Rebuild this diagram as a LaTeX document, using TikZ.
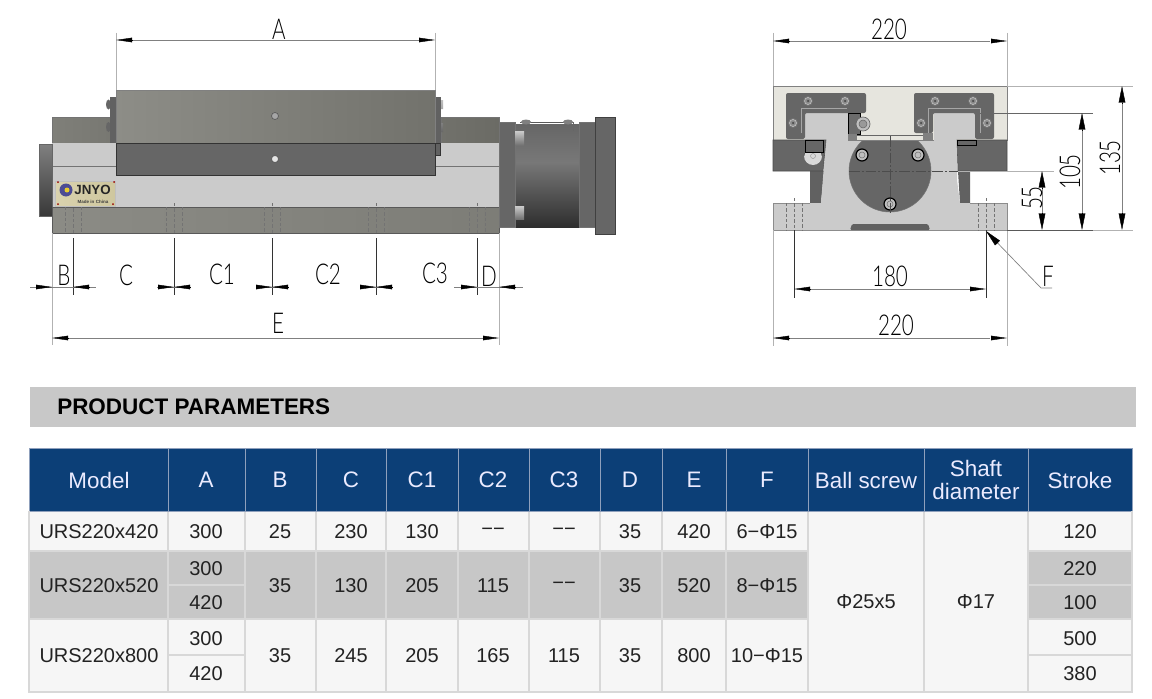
\documentclass[tikz,border=0pt]{standalone}
\usepackage{fontspec}
\usepackage{graphicx}
\setmainfont{Liberation Sans}
\newfontfamily\dimfont{Lato Light}
\usetikzlibrary{arrows.meta}
\definecolor{hdr}{HTML}{0C3F77}
\definecolor{hdrline}{HTML}{8FA0BC}
\definecolor{cellw}{HTML}{F6F6F6}
\definecolor{cellg}{HTML}{C7C7C7}
\definecolor{cellline}{HTML}{D8D8D8}
\definecolor{band}{HTML}{C8C8C8}
\definecolor{lightbody}{HTML}{CBCBCB}
\definecolor{darkgrey}{HTML}{666666}
\definecolor{cream}{HTML}{E6E5DE}
\definecolor{ink}{HTML}{222222}
\definecolor{carrL}{HTML}{8D8D87}
\definecolor{carrR}{HTML}{72726C}
\definecolor{baseL}{HTML}{8B8B85}
\definecolor{baseR}{HTML}{7D7D77}
\definecolor{upL}{HTML}{7F7F79}
\definecolor{upM}{HTML}{787872}
\definecolor{upN}{HTML}{71716B}
\definecolor{upR}{HTML}{6B6B65}
\definecolor{plateL}{HTML}{D9D2AE}
\definecolor{plateR}{HTML}{CFC79E}
\tikzset{
  x=0.75pt,y=-0.75pt,
  cell/.style={text=ink,font=\fontsize{15}{16}\selectfont,inner sep=0pt,align=center},
  headcell/.style={text=white!92!blue,font=\fontsize{16.8}{17.5}\selectfont,inner sep=0pt,align=center},
  dimlab/.style={text=black,font=\dimfont\fontsize{21.5}{23}\selectfont,inner sep=0pt},
  dimline/.style={draw=black!50,line width=0.5pt},
  extline/.style={draw=black!30,line width=0.6pt},
  tickline/.style={draw=black!80,line width=0.5pt},
  dimtip/.style={draw=black,line width=0.3pt,-{Stealth[length=12pt,width=3.4pt,inset=0pt]}},
  vdimtip/.style={draw=black,line width=0.3pt,-{Stealth[length=12.5pt,width=5pt,inset=0pt]}},
  bodyedge/.style={draw=black!55,line width=0.5pt},
  holedash/.style={draw=black!55,line width=0.4pt,dash pattern=on 2.5pt off 1.5pt},
  centre/.style={draw=black!70,line width=0.4pt,dash pattern=on 8pt off 1.5pt on 1.5pt off 1.5pt},
}
\newcommand{\nar}[1]{\scalebox{.72}[1]{#1}}
\newcommand{\bolt}[3]{%
  \fill[black!55] (#1,#2) circle[radius=#3];
  \draw[black!25,line width=.5pt,fill=black!45] (#1,#2) circle[radius=#3*.7];
  \fill[black!70] (#1,#2) circle[radius=#3*.25];}
\newcommand{\rbolt}[3]{%
  \draw[black,line width=.9pt,fill=black!25] (#1,#2) circle[radius=#3];
  \draw[black!55,line width=.4pt] (#1,#2) circle[radius=#3*.5];}
\newcommand{\tc}[3]{\node[cell] (t-#1-#2) at (#1,#2+1) {#3};}
\newcommand{\hc}[3]{\node[headcell] (h-#1-#2) at (#1,#2) {#3};}
\begin{document}
\begin{tikzpicture}
\useasboundingbox (0,0) rectangle (1152,699);
\fill[white] (0,0) rectangle (1152,699);

% ---------- side view ----------
\shade[left color=upL,right color=upM,draw=black!55,line width=.4pt] (52,117) rectangle (110,143);
\shade[left color=upN,right color=upR,draw=black!55,line width=.4pt] (441,117) rectangle (499,143);
\fill[lightbody] (52,143) rectangle (499,207);
\draw[bodyedge] (52,166) -- (116,166) (435,166) -- (499,166);
\shade[top color=black!50,bottom color=black!78,draw=black!60,line width=.3pt] (39,144) rectangle (52,216);
\shade[left color=baseL,right color=baseR,draw=black!65,line width=.4pt] (52,207) rectangle (499,233);
% side plates and bolts
\fill[black!60] (108.5,104.5) ellipse[x radius=2.5,y radius=5] (108.5,127) ellipse[x radius=2.5,y radius=5];
\fill[black!62] (110,97) rectangle (116,143);
\shade[top color=black!25,bottom color=black!60] (441,100) rectangle (443,109) (441,123) rectangle (443,132);
\fill[black!62] (435,97) rectangle (441,143);
\draw[black!80,line width=.4pt,fill=black!62] (435,143) rectangle (440,155);
% carriage
\shade[left color=carrL,right color=carrR,draw=black!50,line width=.5pt] (116,90) rectangle (435,143);
\draw[black!80,line width=.6pt,fill=darkgrey] (116,143) rectangle (435,175);
\draw[black!65,line width=.5pt,fill=black!35] (275,116) circle[radius=3.5];
\draw[black!65,line width=.5pt,fill=black!10] (275,159) circle[radius=3.5];
% hole dashes
\foreach \h in {73,174,272,376,477}{
  \draw[holedash] (\h-8,207) -- (\h-8,233) (\h+8,207) -- (\h+8,233);
  \draw[holedash] (\h,203) -- (\h,233);
}
% name plate
\shade[left color=plateL,right color=plateR,draw=black!25,line width=.3pt] (55,181) rectangle (115,206);
\fill[blue!40!black!70] (66,190) circle[radius=6.5];
\fill[yellow!60!brown] (67,190) circle[radius=2.5];
\node[inner sep=0pt,font=\bfseries\fontsize{10}{10}\selectfont,text=black!85] (plate) at (92.5,190) {JNYO};
\node[inner sep=0pt,font=\bfseries\fontsize{3.4}{4}\selectfont,text=black!75] (made) at (93,201.5) {Made in China};
\foreach \px/\py in {58/182,114/182,58/204,113/204}{\fill[red!60!black] (\px,\py) circle[radius=1];}
% motor
\shade[top color=black!60,bottom color=black!53] (515,124) rectangle (579,162);
\shade[top color=black!53,bottom color=black!82] (515,162) rectangle (579,227);
\draw[black!65,line width=.4pt] (520,122) -- (573,122);
\fill[black!50] (526,122) ellipse[x radius=5,y radius=2.5] (568,122) ellipse[x radius=5,y radius=2.5];
\draw[black!60,line width=.4pt] (573,122) -- (573,131);
\draw[black!55,line width=.4pt,fill=darkgrey] (499,122) rectangle (515,227);
\draw[black!55,line width=.4pt,fill=darkgrey] (579,122) rectangle (595,227);
\draw[black!75,line width=.5pt,fill=darkgrey] (595,117) rectangle (615,234);
\shade[top color=black!20,bottom color=black!55] (515,131) rectangle (524,145);
\shade[top color=black!20,bottom color=black!55] (515,206) rectangle (524,219);

% ---------- side view dimensions ----------
\draw[extline] (116,33) -- (116,90) (435,33) -- (435,90);
\draw[dimline] (130,40) -- (420,40);
\draw[dimtip] (132,40) -- (116,40);
\draw[dimtip] (419,40) -- (435,40);
\node[dimlab] (labA) at (279,29) {\nar{A}};
\draw[extline] (52,233) -- (52,345) (499,233) -- (499,345);
\foreach \h in {73,174,272,376,477}{\draw[tickline] (\h,238) -- (\h,295);}
\draw[dimline] (30,287) -- (96,287) (157,287) -- (190,287) (257,287) -- (288,287) (361,287) -- (392,287) (454,287) -- (523,287);
\foreach \a/\b in {36/52,89/73,158/174,190/174,256/272,288/272,360/376,392/376,461/477,515/499}{
  \draw[dimtip] (\a,287) -- (\b,287);
}
\node[dimlab] (labB) at (64,275) {\nar{B}};
\node[dimlab] (labC) at (126,275) {\nar{C}};
\node[dimlab] (labC1) at (222,274) {\nar{C1}};
\node[dimlab] (labC2) at (328,274) {\nar{C2}};
\node[dimlab] (labC3) at (435,273) {\nar{C3}};
\node[dimlab] (labD) at (489,276) {\nar{D}};
\draw[dimline] (60,338) -- (490,338);
\draw[dimtip] (68,338) -- (52,338);
\draw[dimtip] (483,338) -- (499,338);
\node[dimlab] (labE) at (278,323) {\nar{E}};

% ---------- end view ----------
\draw[black!50,line width=.5pt,fill=cream] (773,86) rectangle (1007,140);
% wedges
\fill[black!62] (810,171) -- (824,171) -- (821,203) -- (810,203) -- cycle;
\fill[black!62] (958,171) -- (970,171) -- (970,203) -- (960,203) -- cycle;
% light body
\fill[lightbody] (805,113) -- (848,113) -- (848,141) -- (934,141) -- (934,113) -- (975,113) -- (975,139) -- (957,139) -- (957,180) -- (960,203) -- (1007,203) -- (1007,230) -- (773,230) -- (773,203) -- (821,203) -- (826,140) -- (805,140) -- cycle;
\draw[black!45,line width=.4pt] (773,203) -- (810,203) (970,203) -- (1007,203) (773,230) -- (1007,230) (773,203) -- (773,230) (1007,203) -- (1007,230);
% side blocks
\draw[black!70,line width=.4pt,fill=darkgrey] (773,140) -- (826,140) -- (823,171) -- (773,171) -- cycle;
\draw[black!70,line width=.4pt,fill=darkgrey] (957,140) -- (1007,140) -- (1007,171) -- (958,171) -- cycle;
% carriages
\fill[black!60,rounded corners=1.5pt] (786,139) -- (786,93) -- (866,93) -- (866,113) -- (805,113) -- (805,139) -- cycle;
\fill[black!60,rounded corners=1.5pt] (914,133) -- (914,93) -- (994,93) -- (994,139) -- (975,139) -- (975,113) -- (933,113) -- (933,133) -- cycle;
\draw[black!35,line width=.4pt] (801,133) -- (801,108) -- (847,108);
\draw[black!35,line width=.4pt] (980,133) -- (980,108) -- (928,108) -- (928,133);
\draw[black,line width=.6pt,fill=black!58] (848,113) -- (860,113) -- (860,134) -- (848,134) -- cycle;
\fill[black!50] (848,134) rectangle (857,141);
\fill[black!50] (923,133) rectangle (933,141);
\draw[black!60,line width=.4pt] (857,135) -- (923,135);
% centre disc
\begin{scope}
  \clip (840,141) rectangle (940,220);
  \draw[black!55,line width=.4pt,fill=black!60] (890,171) circle[radius=41];
\end{scope}
\draw[black!60,line width=.5pt] (864,141) -- (916,141);
% slot
\fill[black!62,rounded corners=1pt] (852,224) -- (928,224) -- (930,230) -- (850,230) -- cycle;
% details
\bolt{808}{101}{5}\bolt{845}{101}{5}\bolt{793}{123}{5}
\bolt{935}{101}{5}\bolt{973}{101}{5}\bolt{921}{123}{5}\bolt{987}{123}{5}
\draw[black!60,line width=.5pt,fill=black!25] (863,124) circle[radius=7];
\draw[black!60,line width=.4pt,fill=black!40] (863,124) circle[radius=4];
\rbolt{862}{155}{6}\rbolt{918}{155}{6}\rbolt{890}{204}{6}
\fill[black!15] (813,156) circle[radius=9];
\draw[black!65,line width=.5pt] (804,156) arc[start angle=180,end angle=360,radius=9];
\draw[black!45,line width=.3pt] (813,156) circle[radius=2.5];
\draw[black,line width=.6pt,fill=black!60] (805,140) rectangle (823,152);
\draw[black,line width=.6pt,fill=black!60] (957,140) rectangle (976,145);
\draw[centre] (890,136) -- (890,215);
\draw[centre] (849,171) -- (958,171);
\foreach \h in {794,986}{
  \draw[holedash] (\h-8,203) -- (\h-8,230) (\h+8,203) -- (\h+8,230);
}
\draw[holedash] (794,198) -- (794,230);
\draw[holedash] (986,198) -- (986,230);

% ---------- end view dimensions ----------
\draw[extline] (773,33) -- (773,86) (1007,33) -- (1007,86);
\draw[dimline] (790,41) -- (990,41);
\draw[dimtip] (789,41) -- (773,41);
\draw[dimtip] (991,41) -- (1007,41);
\node[dimlab] (lab220a) at (889,29) {\nar{220}};
\draw[extline] (773,230) -- (773,346) (1007,230) -- (1007,346);
\draw[dimline] (790,338) -- (990,338);
\draw[dimtip] (789,338) -- (773,338);
\draw[dimtip] (991,338) -- (1007,338);
\node[dimlab] (lab220b) at (896,325) {\nar{220}};
\draw[tickline] (794,230) -- (794,298) (986,230) -- (986,298);
\draw[dimline] (810,289) -- (970,289);
\draw[dimtip] (810,289) -- (794,289);
\draw[dimtip] (970,289) -- (986,289);
\node[dimlab] (lab180) at (890,276) {\nar{180}};
% leader F
\coordinate (fbend) at (1041,288);
\coordinate (fend) at (1052,288);
\coordinate (ftip) at (986,231);
\coordinate (fshank) at (997,242.5);
\draw[dimline] (fend) -- (fbend) -- (ftip);
\draw[vdimtip] (fshank) -- (ftip);
\node[dimlab] (labF) at (1048,276) {\nar{F}};
% heights
\draw[extline] (1007,86) -- (1133,86);
\draw[tickline,draw=black!60] (975,113) -- (1093,113);
\draw[extline] (958,171) -- (1054,171);
\draw[tickline,draw=black!65] (1007,230) -- (1093,230);
\draw[extline] (1093,230) -- (1133,230);
\draw[dimline] (1122,100) -- (1122,215);
\draw[vdimtip] (1122,103) -- (1122,86);
\draw[vdimtip] (1122,213) -- (1122,230);
\draw[dimline] (1082,128) -- (1082,215);
\draw[vdimtip] (1082,130) -- (1082,113);
\draw[vdimtip] (1082,213) -- (1082,230);
\draw[dimline] (1042,185) -- (1042,215);
\draw[vdimtip] (1042,188) -- (1042,171);
\draw[vdimtip] (1042,213) -- (1042,230);
\node[dimlab,rotate=90] (lab135) at (1110,158) {\nar{135}};
\node[dimlab,rotate=90] (lab105) at (1070,172) {\nar{105}};
\node[dimlab,rotate=90] (lab55) at (1032,198) {\nar{55}};

% ---------- band ----------
\fill[band] (30,387) rectangle (1136,427);
\node[inner sep=0pt,anchor=west,text=black,font=\bfseries\fontsize{16.85}{18}\selectfont] (title) at (57,407) {PRODUCT PARAMETERS};

% ---------- table ----------
\fill[hdr] (29,448) rectangle (1132,511);
\fill[cellw] (29,511) rectangle (1132,692);
\fill[cellg] (29,551) rectangle (808,619);
\fill[cellg] (1028,551) rectangle (1132,619);
\foreach \h in {168,245,316,386,458,529,600,662,726,808,924,1028}{
  \draw[hdrline,line width=.7pt] (\h,448) -- (\h,511);
  \draw[cellline,line width=.9pt] (\h,511) -- (\h,692);
}
\draw[hdrline,line width=.7pt] (29,448) -- (1132,448) (29,448) -- (29,511) (1132,448) -- (1132,511);
\draw[hdrline,line width=.7pt] (29,511) -- (1132,511);
\draw[cellline,line width=.9pt] (29,551) -- (808,551) (1028,551) -- (1132,551) (29,619) -- (808,619) (1028,619) -- (1132,619);
\draw[cellline,line width=.9pt] (168,585) -- (245,585) (168,655) -- (245,655) (1028,585) -- (1132,585) (1028,655) -- (1132,655);
\draw[cellline,line width=.9pt] (29,511) -- (29,692) -- (1132,692) -- (1132,511);
\hc{99}{480}{Model}\hc{206}{480}{A}\hc{280}{480}{B}\hc{351}{480}{C}\hc{422}{480}{C1}\hc{493}{480}{C2}\hc{564}{480}{C3}\hc{630}{480}{D}\hc{694}{480}{E}\hc{767}{480}{F}
\hc{866}{480}{Ball screw}\hc{976}{480}{Shaft\\diameter}\hc{1080}{480}{Stroke}
% row 1
\tc{99}{531}{URS220x420}\tc{206}{531}{300}\tc{280}{531}{25}\tc{351}{531}{230}\tc{422}{531}{130}\tc{493}{531}{−−}\tc{564}{531}{−−}\tc{630}{531}{35}\tc{694}{531}{420}\tc{767}{531}{6−Φ15}\tc{1080}{531}{120}
% row 2
\tc{99}{585}{URS220x520}\tc{206}{568}{300}\tc{206}{602}{420}\tc{280}{585}{35}\tc{351}{585}{130}\tc{422}{585}{205}\tc{493}{585}{115}\tc{564}{585}{−−}\tc{630}{585}{35}\tc{694}{585}{520}\tc{767}{585}{8−Φ15}\tc{1080}{568}{220}\tc{1080}{602}{100}
% row 3
\tc{99}{655}{URS220x800}\tc{206}{638}{300}\tc{206}{673}{420}\tc{280}{655}{35}\tc{351}{655}{245}\tc{422}{655}{205}\tc{493}{655}{165}\tc{564}{655}{115}\tc{630}{655}{35}\tc{694}{655}{800}\tc{767}{655}{10−Φ15}\tc{1080}{638}{500}\tc{1080}{673}{380}
% merged
\tc{866}{601}{Φ25x5}\tc{976}{601}{Φ17}
\end{tikzpicture}
\end{document}
